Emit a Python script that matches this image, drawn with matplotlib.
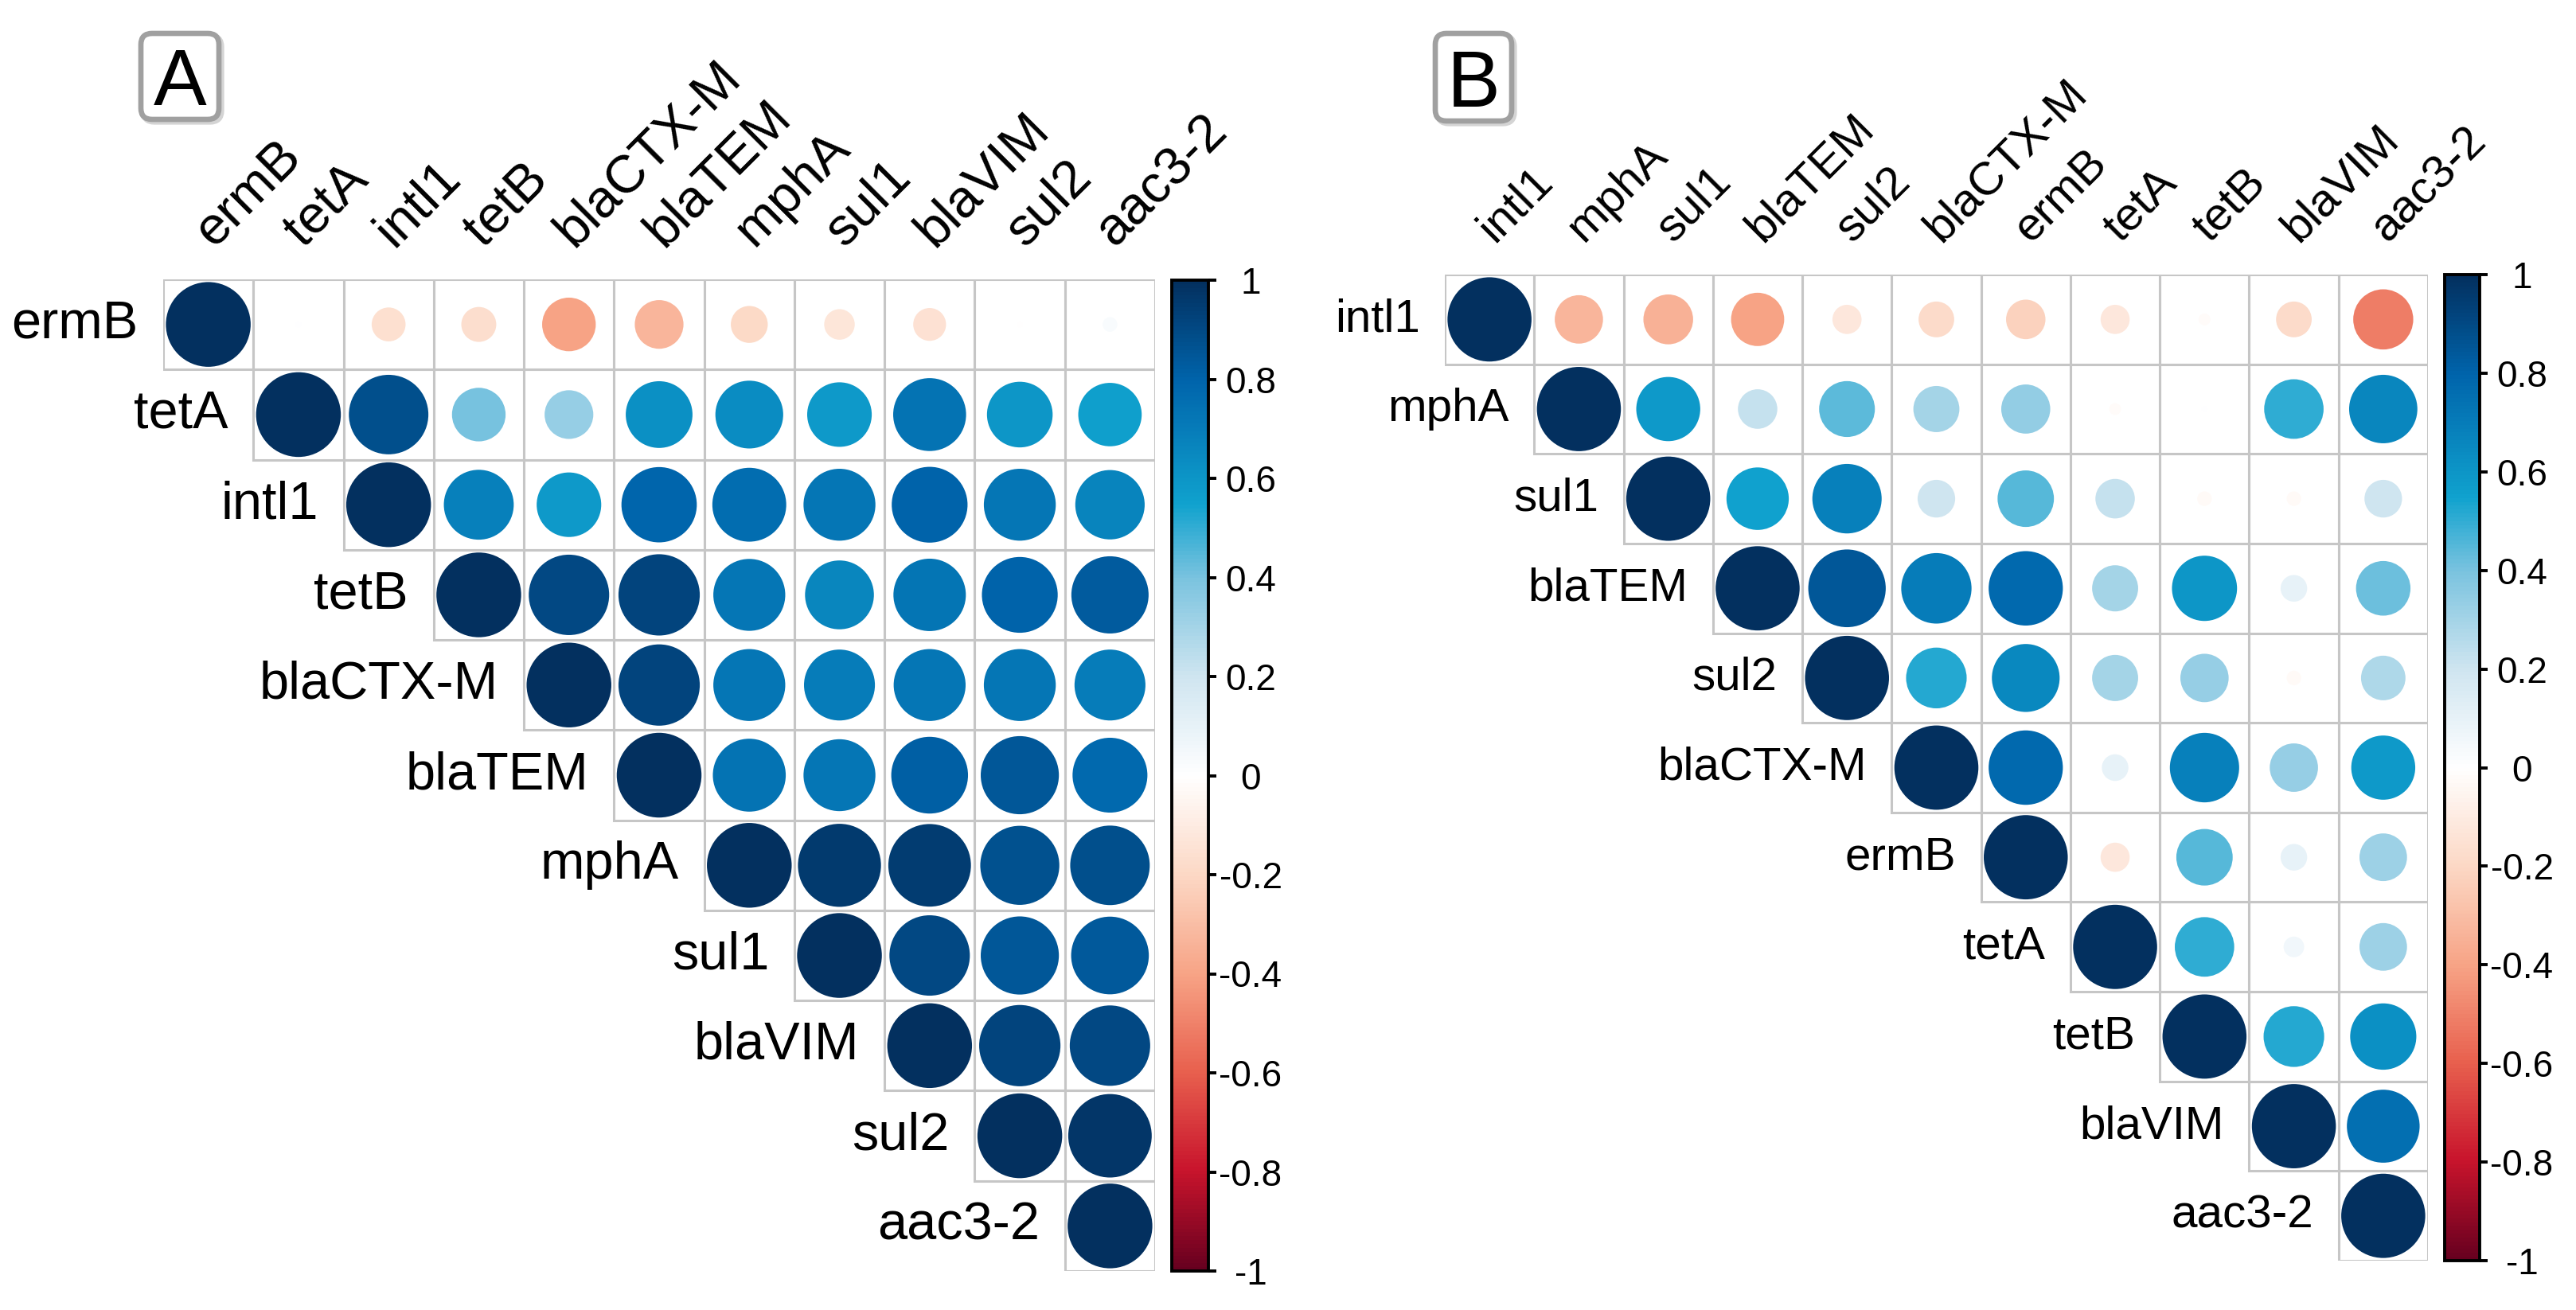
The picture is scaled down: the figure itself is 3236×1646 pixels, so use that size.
import numpy as np
import matplotlib
matplotlib.use("Agg")
import matplotlib.pyplot as plt
from matplotlib.patches import Circle, Rectangle, FancyBboxPatch
from matplotlib.colors import LinearSegmentedColormap, Normalize
from matplotlib.cm import ScalarMappable
from matplotlib.transforms import IdentityTransform

plt.rcParams['font.family'] = ['Liberation Sans', 'DejaVu Sans']

W, H = 3236, 1646
DPI = 200

# ---------- DATA ----------
genes_a = ["ermB", "tetA", "intl1", "tetB", "blaCTX-M", "blaTEM",
           "mphA", "sul1", "blaVIM", "sul2", "aac3-2"]
# upper triangle, each row starts at the diagonal
corr_a = [
    [1, 0.005, -0.16, -0.17, -0.40, -0.33, -0.19, -0.13, -0.15, -0.005, 0.03],
    [1, 0.88, 0.40, 0.33, 0.62, 0.64, 0.58, 0.74, 0.60, 0.56],
    [1, 0.68, 0.58, 0.79, 0.76, 0.72, 0.80, 0.72, 0.67],
    [1, 0.90, 0.92, 0.72, 0.66, 0.73, 0.80, 0.83],
    [1, 0.92, 0.72, 0.70, 0.72, 0.72, 0.70],
    [1, 0.74, 0.72, 0.82, 0.85, 0.78],
    [1, 0.96, 0.95, 0.87, 0.88],
    [1, 0.90, 0.85, 0.84],
    [1, 0.92, 0.90],
    [1, 0.97],
    [1],
]

genes_b = ["intl1", "mphA", "sul1", "blaTEM", "sul2", "blaCTX-M",
           "ermB", "tetA", "tetB", "blaVIM", "aac3-2"]
corr_b = [
    [1, -0.33, -0.35, -0.40, -0.12, -0.18, -0.22, -0.12, -0.02, -0.18, -0.51],
    [1, 0.58, 0.22, 0.44, 0.30, 0.34, -0.02, 0.005, 0.50, 0.66],
    [1, 0.55, 0.68, 0.20, 0.45, 0.22, -0.03, -0.03, 0.20],
    [1, 0.85, 0.70, 0.78, 0.30, 0.60, 0.10, 0.42],
    [1, 0.52, 0.65, 0.30, 0.33, -0.03, 0.28],
    [1, 0.78, 0.10, 0.68, 0.33, 0.58],
    [1, -0.12, 0.45, 0.10, 0.32],
    [1, 0.50, 0.06, 0.32],
    [1, 0.52, 0.62],
    [1, 0.75],
    [1],
]

cbar_ticks = [1, 0.8, 0.6, 0.4, 0.2, 0, -0.2, -0.4, -0.6, -0.8, -1]
cbar_labels = ["1", "0.8", "0.6", "0.4", "0.2", "0",
               "-0.2", "-0.4", "-0.6", "-0.8", "-1"]

# palette (red - white - blue)
pal_pos = [-1, -0.8, -0.6, -0.4, -0.2, 0, 0.2, 0.4, 0.55, 0.8, 1]
pal_col = ["#67001F", "#C8142C", "#E8604E", "#F7A486", "#FCD8C5", "#FFFFFF",
           "#CFE5F0", "#7AC3DF", "#10A2CE", "#0064AB", "#03305F"]
cmap = LinearSegmentedColormap.from_list(
    "corr", [((p + 1) / 2, c) for p, c in zip(pal_pos, pal_col)])
norm = Normalize(-1, 1)


def rect(x0, y0, x1, y1):
    # pixel box (top-left origin) -> figure fraction
    return [x0 / W, 1 - y1 / H, (x1 - x0) / W, (y1 - y0) / H]


fig = plt.figure(figsize=(W / DPI, H / DPI), dpi=DPI)


def draw_panel(genes, corr, grid_box, cbar_box, letter, letter_box, fs):
    n = len(genes)
    ax = fig.add_axes(rect(*grid_box))
    ax.set_xlim(0, n)
    ax.set_ylim(n, 0)
    ax.axis('off')

    for i, row in enumerate(corr):
        for k, v in enumerate(row):
            j = i + k
            ax.add_patch(Rectangle((j, i), 1, 1, fill=False,
                                   ec='#C6C6C6', lw=1.1, zorder=1))
            ax.add_patch(Circle((j + 0.5, i + 0.5), 0.47 * np.sqrt(abs(v)),
                                color=cmap(norm(v)), lw=0, zorder=2))

    for i, g in enumerate(genes):
        ax.text(i - 0.28, i + 0.5, g, ha='right', va='center', fontsize=fs)
        ax.text(i + 0.55, -0.35, g, rotation=45, rotation_mode='anchor',
                ha='left', va='baseline', fontsize=fs)

    # colorbar
    cax = fig.add_axes(rect(*cbar_box))
    cb = fig.colorbar(ScalarMappable(norm=norm, cmap=cmap), cax=cax)
    cb.set_ticks(cbar_ticks)
    cb.set_ticklabels(cbar_labels)
    cb.outline.set_linewidth(1.4)
    cax.tick_params(length=3.6, width=1.4, labelsize=16.5, pad=15.5)
    for t in cax.get_yticklabels():
        t.set_ha('center')

    # panel letter in rounded box
    x0, y0, x1, y1 = letter_box
    shadow = FancyBboxPatch((x0 + 3, H - y1 - 3), x1 - x0, y1 - y0,
                            boxstyle='round,pad=0,rounding_size=14',
                            fc='none', ec='#D4D4D4', lw=2.6,
                            transform=IdentityTransform())
    fig.add_artist(shadow)
    box = FancyBboxPatch((x0, H - y1), x1 - x0, y1 - y0,
                         boxstyle='round,pad=0,rounding_size=14',
                         fc='white', ec='#A0A0A0', lw=2.4,
                         transform=IdentityTransform())
    fig.add_artist(box)
    fig.text((x0 + x1) / 2 / W, 1 - (y1 - 18) / H, letter,
             ha='center', va='baseline', fontsize=36)


draw_panel(genes_a, corr_a, (205, 351, 1451, 1597), (1472, 352, 1518, 1597),
           "A", (177, 42, 275, 150), 24)
draw_panel(genes_b, corr_b, (1815, 345, 3050, 1584), (3071, 345, 3115, 1584),
           "B", (1803, 42, 1899, 152), 21)

fig.savefig("out.png", dpi=DPI, facecolor='white')
